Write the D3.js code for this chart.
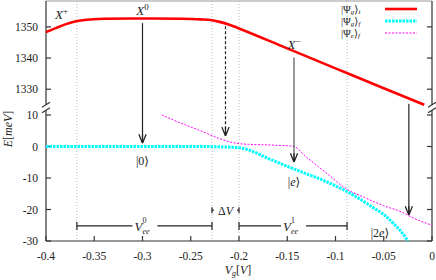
<!DOCTYPE html>
<html>
<head>
<meta charset="utf-8">
<script src="https://cdn.jsdelivr.net/npm/d3@7"></script>
<style>
  body { margin: 0; background: white; }
  text { font-family: "Liberation Serif", "DejaVu Serif", serif; fill: #222; }
  .ang { font-family: "DejaVu Sans", "Noto Sans", sans-serif; }
</style>
</head>
<body>
<div id="chart"></div>
<script>
// Data
// |Psi_g>_i (upper panel, meV)
const redX = [-0.4, -0.39, -0.38, -0.37, -0.36, -0.34, -0.3, -0.26, -0.24, -0.228, -0.22, -0.21, -0.2, -0.15, -0.1, -0.05, -0.008];
const redY = [1348.3, 1349.6, 1350.8, 1351.7, 1352.2, 1352.6, 1352.7, 1352.6, 1352.4, 1352.1, 1351.6, 1350.7, 1349.5, 1343.1, 1336.7, 1330.3, 1325];

// |Psi_g>_f (lower panel)
const cyanX = [-0.4, -0.24, -0.22, -0.2, -0.19, -0.18, -0.17, -0.16, -0.15, -0.14, -0.13, -0.12, -0.11, -0.1, -0.09, -0.08, -0.07, -0.06, -0.05, -0.04, -0.03, -0.025];
const cyanY = [0, 0, -0.1, -0.4, -1.1, -2.3, -3.8, -5.0, -6.3, -7.5, -8.7, -9.8, -11.1, -12.5, -14.0, -15.7, -17.6, -19.6, -21.6, -24.4, -27.8, -30];

// |Psi_e>_f (lower panel)
const magX = [-0.28, -0.26, -0.24, -0.22, -0.21, -0.2, -0.19, -0.17, -0.155, -0.144, -0.13, -0.11, -0.088, -0.07, -0.05, -0.03, -0.024, 0];
const magY = [10, 7.4, 5.0, 2.5, 1.5, 0.9, 0.7, 0.5, 0.3, 0.1, -3.4, -8.3, -13.6, -16.2, -18.8, -21.0, -22.0, -25];

// ticks
const xTicks = [-0.4, -0.35, -0.3, -0.25, -0.2, -0.15, -0.1, -0.05, 0];
const upperTicks = [1350, 1340, 1330];
const lowerTicks = [10, 0, -10, -20, -30];

// vertical guide lines
const guideX = [-0.368, -0.228, -0.2, -0.088];

// arrows: x, start value (upper panel), end value (lower panel)
const arrowX = [-0.3, -0.214, -0.143, -0.024];
const arrowFrom = [1351.2, 1350.2, 1340.2, 1325.3];
const arrowTo = [1, 3.3, -5, -21.8];
const arrowDash = [false, true, false, false];

// spans in the lower panel
const spanFrom = [-0.368, -0.2];
const spanTo = [-0.228, -0.088];
const spanSup = ["0", "1"];
const spanLevel = -25.2;
const deltaLevel = -20.2;

const width = 436, height = 280;
const margin = { left: 46, right: 4, top: 1, bottom: 39 };

let svg = d3.select('#chart')
            .append('svg')
            .attr('width', width)
            .attr('height', height)
            .style('background', 'white');

const x = d3.scaleLinear()
            .domain([-0.4, 0])
            .range([margin.left, width - margin.right]);

// broken y axis: upper and lower scales
const yUp = d3.scaleLinear()
              .domain([1325, 1358.3])
              .range([104.8, margin.top]);
const yLo = d3.scaleLinear()
              .domain([-30, 12])
              .range([height - margin.bottom, 108.7]);

const x0 = x.range()[0], x1 = x.range()[1];
const yBot = yLo(-30);

// guide lines
svg.selectAll('.guide')
   .data(guideX)
   .enter()
   .append('line')
   .attr('x1', d => x(d)).attr('x2', d => x(d))
   .attr('y1', margin.top).attr('y2', yBot)
   .attr('stroke', '#bbb')
   .attr('stroke-width', 1)
   .attr('stroke-dasharray', '1,2');

// frame
const frame = svg.append('g').attr('stroke', '#333').attr('stroke-width', 1.2).attr('fill', 'none');
frame.append('line').attr('x1', x0).attr('x2', x1).attr('y1', yBot).attr('y2', yBot);
frame.append('line').attr('x1', x0).attr('x2', x1).attr('y1', margin.top).attr('y2', margin.top).attr('stroke', '#999');
[x0, x1].forEach(xx => {
  frame.append('line').attr('x1', xx).attr('x2', xx).attr('y1', margin.top).attr('y2', yUp(1325));
  frame.append('line').attr('x1', xx).attr('x2', xx).attr('y1', yLo(12) + 1.5).attr('y2', yBot);
  // break marks
  frame.append('line').attr('x1', xx - 4).attr('x2', xx + 4).attr('y1', yUp(1325) + 2.5).attr('y2', yUp(1325) - 2.5);
  frame.append('line').attr('x1', xx - 4).attr('x2', xx + 4).attr('y1', yLo(12) + 4).attr('y2', yLo(12) - 1);
});

// ticks inward on left and right, bottom ticks pointing up
function yTicks(scale, vals) {
  vals.forEach(v => {
    frame.append('line').attr('x1', x0).attr('x2', x0 + 5).attr('y1', scale(v)).attr('y2', scale(v));
    frame.append('line').attr('x1', x1).attr('x2', x1 - 5).attr('y1', scale(v)).attr('y2', scale(v));
    svg.append('text')
       .attr('x', x0 - 8).attr('y', scale(v))
       .attr('text-anchor', 'end')
       .attr('dominant-baseline', 'central')
       .attr('font-size', '11.5px')
       .text(v);
  });
}
yTicks(yUp, upperTicks);
yTicks(yLo, lowerTicks);

xTicks.forEach(v => {
  frame.append('line').attr('x1', x(v)).attr('x2', x(v)).attr('y1', yBot).attr('y2', yBot - 5);
  svg.append('text')
     .attr('x', x(v)).attr('y', yBot + 15)
     .attr('text-anchor', 'middle')
     .attr('dominant-baseline', 'central')
     .attr('font-size', '11.5px')
     .text(v === 0 ? '0' : String(v));
});

// axis titles
const yt = svg.append('text')
   .attr('transform', `translate(12, 129) rotate(-90)`)
   .attr('text-anchor', 'middle')
   .attr('font-size', '12px');
yt.append('tspan').attr('font-style', 'italic').text('E');
yt.append('tspan').text('[');
yt.append('tspan').attr('font-style', 'italic').text('meV');
yt.append('tspan').text(']');

const xt = svg.append('text')
   .attr('x', 238).attr('y', 274)
   .attr('text-anchor', 'middle')
   .attr('font-size', '12px');
xt.append('tspan').attr('font-style', 'italic').text('V');
xt.append('tspan').attr('font-style', 'italic').attr('font-size', '8px').attr('dy', 2).text('g');
xt.append('tspan').attr('dy', -2).text('[');
xt.append('tspan').attr('font-style', 'italic').text('V');
xt.append('tspan').text(']');

// curves
const redLine = d3.line().x(d => x(d[0])).y(d => yUp(d[1])).curve(d3.curveMonotoneX);
const loLine = d3.line().x(d => x(d[0])).y(d => yLo(d[1])).curve(d3.curveMonotoneX);

svg.append('path')
   .datum(redX.map((v, i) => [v, redY[i]]))
   .attr('d', redLine)
   .attr('fill', 'none')
   .attr('stroke', '#f00')
   .attr('stroke-width', 2.6);

svg.append('path')
   .datum(cyanX.map((v, i) => [v, cyanY[i]]))
   .attr('d', loLine)
   .attr('fill', 'none')
   .attr('stroke', '#0ff')
   .attr('stroke-width', 3)
   .attr('stroke-dasharray', '2.5,1');

svg.append('path')
   .datum(magX.map((v, i) => [v, magY[i]]))
   .attr('d', loLine)
   .attr('fill', 'none')
   .attr('stroke', '#f0f')
   .attr('stroke-width', 1)
   .attr('stroke-dasharray', '2,1.5');

// arrows
svg.append('defs').append('marker')
   .attr('id', 'head')
   .attr('viewBox', '0 0 10 10')
   .attr('refX', 10).attr('refY', 5)
   .attr('markerWidth', 9).attr('markerHeight', 9)
   .attr('markerUnits', 'userSpaceOnUse')
   .attr('orient', 'auto')
   .append('path')
   .attr('d', 'M0,1 L10,5 L0,9 M10,5 L0,5')
   .attr('fill', 'none')
   .attr('stroke', '#222')
   .attr('stroke-width', 1.4);

arrowX.forEach((v, i) => {
  svg.append('line')
     .attr('x1', x(v)).attr('x2', x(v))
     .attr('y1', yUp(arrowFrom[i])).attr('y2', yLo(arrowTo[i]))
     .attr('stroke', i === 2 ? '#555' : '#222')
     .attr('stroke-width', 1.2)
     .attr('stroke-dasharray', arrowDash[i] ? '3,2' : null)
     .attr('marker-end', 'url(#head)');
});

// state labels
function mathLabel(px, py, parts, size) {
  const t = svg.append('text')
     .attr('x', px).attr('y', py)
     .attr('text-anchor', 'middle')
     .attr('font-size', size + 'px');
  parts.forEach(p => {
    const s = t.append('tspan').text(p.t);
    if (p.i) s.attr('font-style', 'italic');
    if (p.a) s.attr('class', 'ang');
    if (p.dy) s.attr('dy', p.dy);
    if (p.fs) s.attr('font-size', p.fs + 'px');
  });
  return t;
}

mathLabel(x(-0.384), yUp(1352.6), [{ t: 'X', i: 1 }, { t: '+', dy: -5, fs: 9 }], 13);
mathLabel(x(-0.3), yUp(1353.9), [{ t: 'X', i: 1 }, { t: '0', dy: -5, fs: 9 }], 13);
mathLabel(x(-0.143), yUp(1342.8), [{ t: 'X', i: 1 }, { t: '\u2212', dy: -5, fs: 9 }], 13);

mathLabel(x(-0.3), yLo(-5.8), [{ t: '|0' }, { t: '\u27E9', a: 1 }], 12);
mathLabel(x(-0.143), yLo(-12.6), [{ t: '|' }, { t: 'e', i: 1 }, { t: '\u27E9', a: 1 }], 12);
mathLabel(x(-0.054), yLo(-28.6), [{ t: '|2' }, { t: 'e', i: 1 }, { t: '\u27E9', a: 1 }], 12);

// V_ee spans
const spans = svg.append('g').attr('stroke', '#222').attr('stroke-width', 1.2);
spanFrom.forEach((v, i) => {
  const ya = yLo(spanLevel);
  const mid = (x(v) + x(spanTo[i])) / 2;
  spans.append('line').attr('x1', x(v)).attr('x2', mid - 12).attr('y1', ya).attr('y2', ya);
  spans.append('line').attr('x1', mid + 13).attr('x2', x(spanTo[i])).attr('y1', ya).attr('y2', ya);
  spans.append('line').attr('x1', x(v)).attr('x2', x(v)).attr('y1', ya - 4).attr('y2', ya + 4);
  spans.append('line').attr('x1', x(spanTo[i])).attr('x2', x(spanTo[i])).attr('y1', ya - 4).attr('y2', ya + 4);
  const t = svg.append('text').attr('x', mid - 10).attr('y', ya + 5).attr('font-size', '13px');
  t.append('tspan').attr('font-style', 'italic').text('V');
  t.append('tspan').attr('font-size', '8px').attr('dy', -8).text(spanSup[i]);
  t.append('tspan').attr('font-size', '8px').attr('font-style', 'italic').attr('dx', -4).attr('dy', 11).text('ee');
});

// delta V
{
  const ya = yLo(deltaLevel);
  const a = x(spanTo[0]), b = x(spanFrom[1]);
  spans.append('line').attr('x1', a).attr('x2', a + 2).attr('y1', ya).attr('y2', ya);
  spans.append('line').attr('x1', b - 2).attr('x2', b).attr('y1', ya).attr('y2', ya);
  spans.append('line').attr('x1', a).attr('x2', a).attr('y1', ya - 3).attr('y2', ya + 3);
  spans.append('line').attr('x1', b).attr('x2', b).attr('y1', ya - 3).attr('y2', ya + 3);
  const t = svg.append('text').attr('x', (a + b) / 2).attr('y', ya + 4.5)
     .attr('text-anchor', 'middle').attr('font-size', '12px');
  t.append('tspan').text('\u0394');
  t.append('tspan').attr('font-style', 'italic').text('V');
}

// legend
const legendNames = [['\u03A8', 'g', 'i'], ['\u03A8', 'g', 'f'], ['\u03A8', 'e', 'f']];
const legendColors = ['#f00', '#0ff', '#f0f'];
const legendWidths = [2.6, 3, 1];
const legendDash = [null, '2.5,1', '2,1.5'];

const legend = svg.append('g').attr('transform', 'translate(341, 9)');
legendNames.forEach((n, i) => {
  const t = legend.append('text').attr('x', 0).attr('y', i * 12 + 3.5).attr('font-size', '10.5px');
  t.append('tspan').text('|' + n[0]);
  t.append('tspan').attr('font-style', 'italic').attr('font-size', '7px').attr('dy', 1.5).text(n[1]);
  t.append('tspan').attr('class', 'ang').attr('dy', -1.5).text('\u27E9');
  t.append('tspan').attr('font-style', 'italic').attr('font-size', '7px').attr('dy', 1.5).text(n[2]);
  legend.append('line')
        .attr('x1', 44).attr('x2', 76)
        .attr('y1', i * 12).attr('y2', i * 12)
        .attr('stroke', legendColors[i])
        .attr('stroke-width', legendWidths[i])
        .attr('stroke-dasharray', legendDash[i]);
});
</script>
</body>
</html>
